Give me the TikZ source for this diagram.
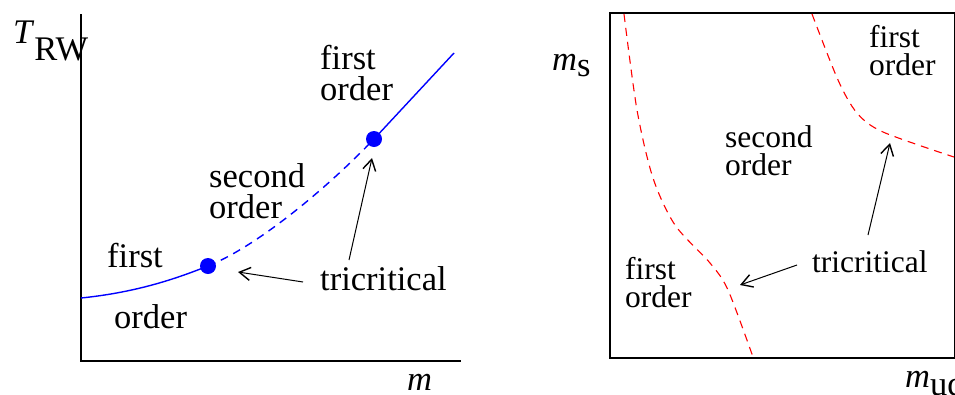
\documentclass[tikz,border=0pt]{standalone}
\usepackage{fontspec}
\setmainfont{Liberation Serif}
\usetikzlibrary{arrows.meta}
\tikzset{
  lbl/.style={anchor=base west,inner sep=0pt,align=left,font=\fontsize{34.5}{31}\selectfont},
  lblr/.style={lbl,font=\fontsize{31.5}{28}\selectfont},
  axis/.style={line width=1.8pt},
  tri dot/.style={circle,fill=blue,inner sep=0pt,minimum size=16pt},
  pointer/.style={-{Straight Barb[length=11pt,width=13pt,line width=1.4pt]},line width=1pt},
  phase line/.style={blue,line width=1.4pt},
  crit line/.style={red,line width=1.1pt,dash pattern=on 8pt off 6pt}
}

\begin{document}
\begin{tikzpicture}[x=1pt,y=-1pt]
  \useasboundingbox (0,0) rectangle (955,394);
  % left panel: T_RW against m
  \coordinate (origin) at (81,361);
  \coordinate (ytop) at (81,14);
  \coordinate (xend) at (461,361);
  \draw[axis] (ytop) -- (origin) -- (xend);
  \node[lbl] (Tlabel) at (13,43) {\textit{T}\raisebox{-17pt}{RW}};
  \node[lbl] (mlabel) at (407,390) {\textit{m}};

  \coordinate (start) at (81,298);
  \node[tri dot] (dotlow) at (208,266) {};
  \node[tri dot] (dothigh) at (374,139) {};
  \coordinate (end) at (454,53);
  \draw[phase line] (start) .. controls (140,292) and (180,277) .. (dotlow.center);
  \draw[phase line,dash pattern=on 8pt off 6pt] (dotlow.center) .. controls (260,245) and (330,185) .. (dothigh.center);
  \draw[phase line] (dothigh.center) -- (end);

  \node[lbl] (firstup) at (320,100) {first\\order};
  \node[lbl] (second) at (209,218) {second\\order};
  \node[lbl] (firstlow) at (107,267) {first};
  \node[lbl] (orderlow) at (114,328) {order};
  \node[lbl] (tri) at (320,290) {tricritical};

  \coordinate (tailA) at (303,282);
  \coordinate (tipA) at (238,272);
  \coordinate (tailB) at (349,260);
  \coordinate (tipB) at (372,158);
  \draw[pointer] (tailA) -- (tipA);
  \draw[pointer] (tailB) -- (tipB);

  % right panel: m_s against m_ud
  \node[draw,line width=1.5pt,inner sep=0pt,minimum width=345pt,minimum height=345pt,anchor=north west] (box) at (609,12) {};
  \node[lbl] (mslabel) at (552,70) {\textit{m}\raisebox{-6pt}{s}};
  \node[lbl] (mudlabel) at (905,387) {\textit{m}\raisebox{-8pt}{ud}};

  \draw[crit line] plot[smooth] coordinates {(624,14) (637,110) (653,178) (675,225) (710,263) (728,290) (753,357)};
  \draw[crit line] plot[smooth] coordinates {(812,14) (838,80) (857,113) (883,132) (954,157)};

  \node[lblr] (firstR) at (869,75) {first\\order};
  \node[lblr] (secondR) at (725,175) {second\\order};
  \node[lblr] (firstL) at (625,307) {first\\order};
  \node[lblr] (triR) at (812,272) {tricritical};

  \coordinate (tailC) at (797,265);
  \coordinate (tipC) at (740,285);
  \coordinate (tailD) at (868,235);
  \coordinate (tipD) at (890,143);
  \draw[pointer] (tailC) -- (tipC);
  \draw[pointer] (tailD) -- (tipD);
\end{tikzpicture}
\end{document}
